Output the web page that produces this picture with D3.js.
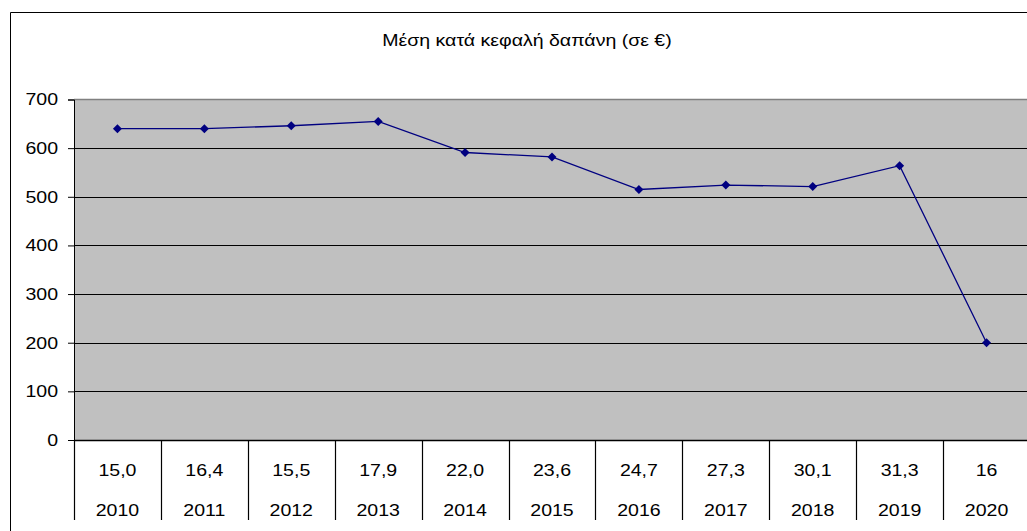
<!DOCTYPE html>
<html>
<head>
<meta charset="utf-8">
<script src="https://cdn.jsdelivr.net/npm/d3@7"></script>
<style>
  html, body { margin: 0; padding: 0; background: #fff; }
  svg { display: block; font-family: "Liberation Sans", Arial, sans-serif; }
</style>
</head>
<body>
<svg id="chart" width="1027" height="531"></svg>
<script>
// Average spending per head, by year
const years = ["2010", "2011", "2012", "2013", "2014", "2015", "2016", "2017", "2018", "2019", "2020"];
const spending = [640, 640, 646, 655, 591, 582, 515, 524, 521, 564, 200];
const secondRow = ["15,0", "16,4", "15,5", "17,9", "22,0", "23,6", "24,7", "27,3", "30,1", "31,3", "16"];
const yTicks = [0, 100, 200, 300, 400, 500, 600, 700];
const title = "Μέση κατά κεφαλή δαπάνη (σε €)";

const FONT = 17;       // label size
const WIDEN = 1.15;    // horizontal stretch of the lettering

const svg = d3.select("#chart");
const plot = { left: 74, top: 99.5, right: 1030, bottom: 440 };

const x = d3.scaleBand().domain(years).range([plot.left, plot.right]).padding(0);
const y = d3.scaleLinear().domain([0, 700]).range([plot.bottom, plot.top]);

// Helper: place a stretched text label at (px, py)
function label(g, px, py, str, anchor) {
  return g.append("text")
    .attr("transform", `translate(${px},${py}) scale(${WIDEN},1)`)
    .attr("text-anchor", anchor || "middle")
    .attr("font-size", FONT)
    .attr("fill", "#000")
    .text(str);
}

// Outer frame
svg.append("path")
  .attr("d", `M10.5,531 L10.5,12.5 L1027,12.5`)
  .attr("fill", "none").attr("stroke", "#000").attr("stroke-width", 1);

// Title
label(svg, 527, 46, title);

// Plot background
svg.append("rect")
  .attr("x", plot.left).attr("y", plot.top)
  .attr("width", plot.right - plot.left).attr("height", plot.bottom - plot.top)
  .attr("fill", "#c0c0c0");

// Top edge of the plot area
svg.append("line")
  .attr("x1", plot.left).attr("x2", plot.right)
  .attr("y1", y(700)).attr("y2", y(700))
  .attr("stroke", "#808080").attr("stroke-width", 1.5);

// Horizontal gridlines
svg.append("g").selectAll("line")
  .data(yTicks.filter(t => t > 0 && t < 700))
  .join("line")
  .attr("x1", plot.left).attr("x2", plot.right)
  .attr("y1", d => Math.round(y(d)) + 0.5).attr("y2", d => Math.round(y(d)) + 0.5)
  .attr("stroke", "#000").attr("stroke-width", 1);

// Y axis
const yAxis = d3.axisLeft(y).tickValues(yTicks).tickSize(6).tickPadding(6).tickFormat(d3.format("d"));
const gy = svg.append("g")
  .attr("transform", `translate(${plot.left},0)`)
  .call(yAxis);
gy.select(".domain").attr("stroke", "#000");
gy.selectAll(".tick line").attr("stroke", "#000");
gy.selectAll(".tick text")
  .attr("x", -16 / WIDEN)
  .attr("transform", `scale(${WIDEN},1)`)
  .attr("font-size", FONT).attr("fill", "#000")
  .attr("font-family", "'Liberation Sans', Arial, sans-serif");

// X axis baseline
svg.append("line")
  .attr("x1", plot.left).attr("x2", plot.right)
  .attr("y1", plot.bottom + 0.5).attr("y2", plot.bottom + 0.5)
  .attr("stroke", "#000").attr("stroke-width", 1.5);

// Category divider ticks
const bounds = years.map(d => x(d)).concat([plot.right]);
svg.append("g").selectAll("line")
  .data(bounds)
  .join("line")
  .attr("x1", d => Math.round(d) + 0.5).attr("x2", d => Math.round(d) + 0.5)
  .attr("y1", plot.bottom).attr("y2", 520)
  .attr("stroke", "#000").attr("stroke-width", 1.2);

// Two-level category labels
const cx = d => x(d) + x.bandwidth() / 2;
const rowA = svg.append("g");
years.forEach((d, i) => label(rowA, cx(d), 476, secondRow[i]));
const rowB = svg.append("g");
years.forEach(d => label(rowB, cx(d), 516, d));

// Series line
const pts = years.map((d, i) => ({ year: d, v: spending[i] }));
svg.append("path")
  .datum(pts)
  .attr("fill", "none").attr("stroke", "#000080").attr("stroke-width", 1.3)
  .attr("d", d3.line().x(d => cx(d.year)).y(d => y(d.v)));

// Diamond markers
svg.append("g").selectAll("path")
  .data(pts)
  .join("path")
  .attr("transform", d => `translate(${cx(d.year)},${y(d.v)})`)
  .attr("d", "M0,-4.5 L4.5,0 L0,4.5 L-4.5,0 Z")
  .attr("fill", "#000080");
</script>
</body>
</html>
